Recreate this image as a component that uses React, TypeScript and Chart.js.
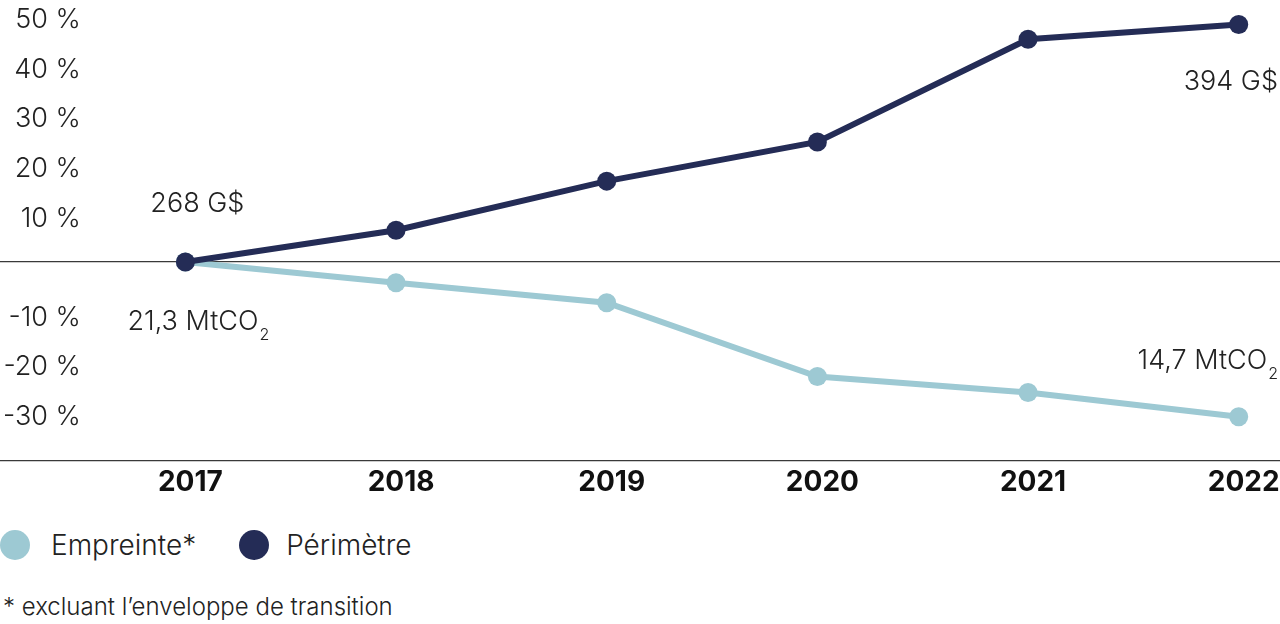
import React, { useEffect, useRef } from 'react';
import { Chart, registerables } from 'chart.js';

Chart.register(...registerables);

// years on the x axis
const years = [2017, 2018, 2019, 2020, 2021, 2022];
// change vs 2017, in %
const perimetre = [0, 6.4, 16.3, 24.2, 44.9, 47.9];
const empreinte = [0, -4.2, -8.2, -23.1, -26.3, -31.2];
// values written at the first and last points
const perimetreEnds = ['268 G$', '394 G$'];
const empreinteEnds = ['21,3 MtCO', '14,7 MtCO'];
const empreinteSub = '2';

const DARK = '#242c56';
const LIGHT = '#9dc9d3';
const TEXT = '#222222';
const FONT = 'Inter, "Noto Sans", sans-serif';

// end values at the first and last points
const endLabels = {
  id: 'endLabels',
  afterDatasetsDraw(chart) {
    const { ctx, chartArea } = chart;
    const dark = chart.getDatasetMeta(0).data;
    const light = chart.getDatasetMeta(1).data;
    const n = years.length - 1;
    ctx.save();
    ctx.fillStyle = TEXT;
    ctx.textBaseline = 'middle';
    const big = `300 27px ${FONT}`;
    const small = `300 16px ${FONT}`;

    // start (2017)
    ctx.font = big;
    ctx.textAlign = 'center';
    ctx.fillText(perimetreEnds[0], dark[0].x + 12, dark[0].y - 58);

    const drawCO2 = (text, x, y, align) => {
      ctx.font = big;
      const w1 = ctx.measureText(text).width;
      ctx.font = small;
      const w2 = ctx.measureText(empreinteSub).width;
      const total = w1 + w2 + 1;
      const left = align === 'center' ? x - total / 2 : x - total;
      ctx.textAlign = 'left';
      ctx.font = big;
      ctx.fillText(text, left, y);
      ctx.font = small;
      ctx.fillText(empreinteSub, left + w1 + 1, y + 13);
    };
    drawCO2(empreinteEnds[0], light[0].x + 13, light[0].y + 60, 'center');

    // end (2022), right aligned on the chart edge
    ctx.font = big;
    ctx.textAlign = 'right';
    ctx.fillText(perimetreEnds[1], chartArea.right - 2, dark[n].y + 57);
    drawCO2(empreinteEnds[1], chartArea.right - 2, light[n].y - 56, 'right');
    ctx.restore();
  },
};

const LineChart = () => {
  const chartRef = useRef(null);
  const chartInstanceRef = useRef(null);

  useEffect(() => {
    document.body.style.margin = '0';
    const ctx = chartRef.current.getContext('2d');

    chartInstanceRef.current = new Chart(ctx, {
      type: 'line',
      data: {
        datasets: [
          {
            label: 'Périmètre',
            data: years.map((y, i) => ({ x: y, y: perimetre[i] })),
            borderColor: DARK,
            backgroundColor: DARK,
            borderWidth: 6,
            pointRadius: 9.5,
            pointHoverRadius: 9.5,
            pointBorderWidth: 0,
            order: 0,
          },
          {
            label: 'Empreinte*',
            data: years.map((y, i) => ({ x: y, y: empreinte[i] })),
            borderColor: LIGHT,
            backgroundColor: LIGHT,
            borderWidth: 6,
            pointRadius: 9.5,
            pointHoverRadius: 9.5,
            pointBorderWidth: 0,
            order: 1,
          },
        ],
      },
      options: {
        animation: false,
        responsive: true,
        maintainAspectRatio: false,
        layout: { autoPadding: false, padding: { top: 14, left: 0, right: 0, bottom: 0 } },
        plugins: {
          legend: { display: false },
          tooltip: { enabled: false },
        },
        scales: {
          x: {
            type: 'linear',
            min: 2016.12,
            max: 2022.196,
            afterBuildTicks: (scale) => {
              scale.ticks = years.map(v => ({ value: v }));
            },
            afterFit: (scale) => {
              scale.paddingLeft = 0;
              scale.paddingRight = 0;
            },
            border: { display: false },
            grid: { display: false, drawTicks: false },
            ticks: {
              padding: 5,
              labelOffset: 5,
              color: '#111',
              font: { family: FONT, size: 28, weight: 'bold' },
              callback: (v) => String(v),
            },
          },
          y: {
            min: -40,
            max: 50,
            afterFit: (scale) => {
              scale.width = 0;
              scale.paddingTop = 0;
              scale.paddingBottom = 0;
            },
            border: { display: false },
            grid: {
              drawTicks: false,
              lineWidth: 1.2,
              color: (c) => (c.tick && (c.tick.value === 0 || c.tick.value === -40) ? '#3a3a3a' : 'transparent'),
            },
            ticks: {
              stepSize: 10,
              mirror: true,
              crossAlign: 'far',
              padding: 3,
              labelOffset: 6,
              color: TEXT,
              font: { family: FONT, size: 27, weight: 300 },
              callback: (v) => (v === 0 || v === -40 ? '' : `${v} %`),
            },
          },
        },
      },
      plugins: [endLabels],
    });

    return () => {
      if (chartInstanceRef.current) {
        chartInstanceRef.current.destroy();
      }
    };
  }, []);

  return (
    <div style={{ position: 'relative', width: 1280, height: 504 }}>
      <canvas ref={chartRef} />
    </div>
  );
};

const Dot = ({ color }) => (
  <span style={{ display: 'inline-block', width: 30, height: 30, borderRadius: '50%', background: color }} />
);

export default function App() {
  return (
    <div style={{ width: 1280, height: 624, position: 'relative', fontFamily: FONT, color: TEXT, fontWeight: 300 }}>
      <LineChart />
      <div style={{ position: 'absolute', left: 0, top: 530, display: 'flex', alignItems: 'center', fontSize: 28, lineHeight: '30px' }}>
        <Dot color={LIGHT} />
        <span style={{ marginLeft: 21 }}>Empreinte*</span>
        <span style={{ marginLeft: 43, display: 'flex' }}><Dot color={DARK} /></span>
        <span style={{ marginLeft: 17 }}>Périmètre</span>
      </div>
      <div style={{ position: 'absolute', left: 3, top: 593, fontSize: 24, lineHeight: '28px' }}>
        * excluant l’enveloppe de transition
      </div>
    </div>
  );
}
